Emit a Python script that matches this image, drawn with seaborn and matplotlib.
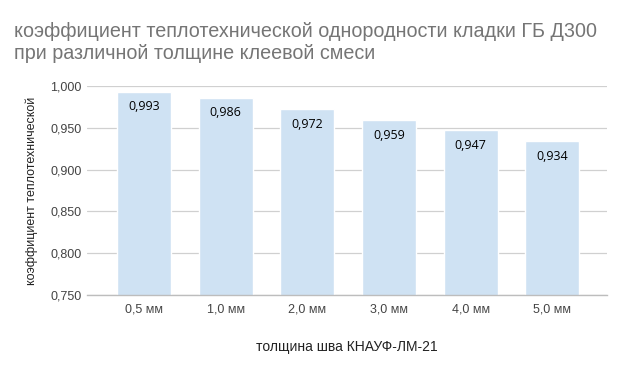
import pandas as pd
import seaborn as sns
import matplotlib.pyplot as plt
from matplotlib.ticker import FuncFormatter

# Data
thickness = ["0,5 мм", "1,0 мм", "2,0 мм", "3,0 мм", "4,0 мм", "5,0 мм"]
coef = [0.993, 0.986, 0.972, 0.959, 0.947, 0.934]

BAR_COLOR = "#cfe2f3"
GRID_COLOR = "#d0d0d0"

sns.set_theme(style="white")
plt.rcParams["font.family"] = ["Liberation Sans", "DejaVu Sans"]

df = pd.DataFrame({"thickness": thickness, "coef": coef})

fig = plt.figure(figsize=(6.43, 3.71), dpi=100)
ax = fig.add_axes([0.1353, 0.2049, 0.8087, 0.5633])

sns.barplot(data=df, x="thickness", y="coef", color=BAR_COLOR,
            saturation=1, width=0.66, ax=ax, zorder=2)

ax.set_ylim(0.75, 1.0)
ax.set_xlim(-0.70, 5.67)
ax.set_yticks([0.75, 0.80, 0.85, 0.90, 0.95, 1.00])
ax.yaxis.set_major_formatter(FuncFormatter(lambda v, p: f"{v:.3f}".replace(".", ",")))
ax.grid(axis="y", color=GRID_COLOR, linewidth=0.9, zorder=0)
ax.set_axisbelow(True)

for s in ["top", "right", "left"]:
    ax.spines[s].set_visible(False)
ax.spines["bottom"].set_color("#bdbdbd")
ax.spines["bottom"].set_linewidth(1.0)
ax.spines["bottom"].set_zorder(3)

ax.tick_params(axis="both", length=0, labelsize=9, labelcolor="#444444")
ax.tick_params(axis="y", pad=4)
ax.tick_params(axis="x", pad=6)

# value labels inside top of bars
for p, v in zip(ax.patches, coef):
    ax.annotate(f"{v:.3f}".replace(".", ","),
                (p.get_x() + p.get_width() / 2, p.get_height()),
                xytext=(0, -6), textcoords="offset points",
                ha="center", va="top", fontsize=9, color="#000000",
                family=["Open Sans", "DejaVu Sans"], zorder=4)

ax.set_ylabel("коэффициент теплотехнической", fontsize=9, color="#222222", labelpad=9)
ax.set_xlabel("толщина шва КНАУФ-ЛМ-21", fontsize=10, color="#222222", labelpad=18)

fig.text(0.021, 0.94, "коэффициент теплотехнической однородности кладки ГБ Д300\nпри различной толщине клеевой смеси",
         fontsize=14.2, color="#757575", ha="left", va="top", linespacing=1.2)

plt.savefig("out.png", dpi=100, facecolor="white")
plt.close()
